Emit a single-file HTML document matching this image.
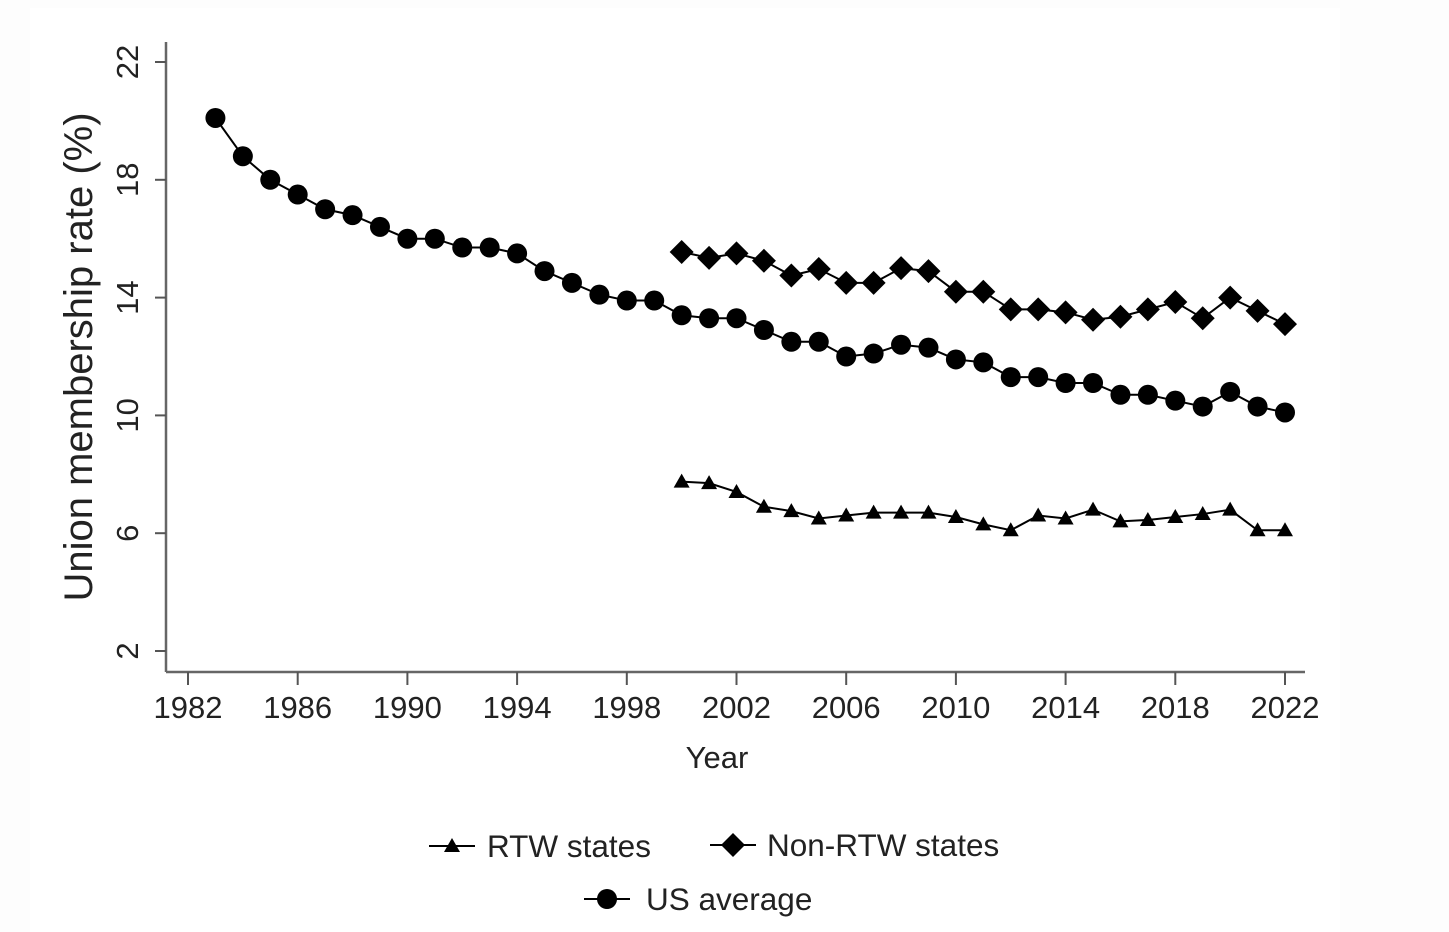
<!DOCTYPE html>
<html><head><meta charset="utf-8"><style>
body{margin:0;background:#fdfdfd;}
#wrap{position:relative;width:1449px;height:932px;background:#fdfdfd;}
svg{position:absolute;left:0;top:0;font-family:"Liberation Sans",sans-serif;}
</style></head><body>
<div id="wrap">
<svg id="chart" width="1449" height="932"></svg>
</div>
<script>
const usYears=[1983,1984,1985,1986,1987,1988,1989,1990,1991,1992,1993,1994,1995,1996,1997,1998,1999,2000,2001,2002,2003,2004,2005,2006,2007,2008,2009,2010,2011,2012,2013,2014,2015,2016,2017,2018,2019,2020,2021,2022];
const usValues=[20.1,18.8,18.0,17.5,17.0,16.8,16.4,16.0,16.0,15.7,15.7,15.5,14.9,14.5,14.1,13.9,13.9,13.4,13.3,13.3,12.9,12.5,12.5,12.0,12.1,12.4,12.3,11.9,11.8,11.3,11.3,11.1,11.1,10.7,10.7,10.5,10.3,10.8,10.3,10.1];
const stateYears=[2000,2001,2002,2003,2004,2005,2006,2007,2008,2009,2010,2011,2012,2013,2014,2015,2016,2017,2018,2019,2020,2021,2022];
const nonRtwValues=[15.55,15.35,15.5,15.25,14.75,14.97,14.5,14.5,15.0,14.9,14.2,14.2,13.6,13.6,13.5,13.25,13.35,13.6,13.85,13.3,14.0,13.55,13.1];
const rtwValues=[7.75,7.7,7.4,6.9,6.75,6.5,6.6,6.7,6.7,6.7,6.55,6.3,6.1,6.6,6.5,6.8,6.4,6.45,6.55,6.65,6.8,6.1,6.1];
const xTicks=[1982,1986,1990,1994,1998,2002,2006,2010,2014,2018,2022];
const yTicks=[2,6,10,14,18,22];

const NS="http://www.w3.org/2000/svg";
const svg=document.getElementById('chart');
function X(v){return 188+(v-1982)*(1285-188)/40;}
function Y(v){return 62+(22-v)*(651-62)/20;}
function el(t,a,p){const e=document.createElementNS(NS,t);for(const k in a)e.setAttribute(k,a[k]);(p||svg).appendChild(e);return e;}

const panel=el('rect',{x:30,y:8,width:1310,height:930,fill:'#ffffff'});



const ax=el('g',{});


el('line',{x1:166,y1:42,x2:166,y2:672,stroke:'#666',"stroke-width":2.5},ax);
el('line',{x1:166,y1:672,x2:1305,y2:672,stroke:'#666',"stroke-width":2.5},ax);
yTicks.forEach(v=>{
  el('line',{x1:155,y1:Y(v),x2:166,y2:Y(v),stroke:'#555',"stroke-width":2},ax);
  const t=el('text',{x:0,y:0,transform:`translate(138,${Y(v)}) rotate(-90)`,"text-anchor":"middle","font-size":31,fill:'#222'},ax);
  t.textContent=v;
  
  
});
xTicks.forEach(v=>{
  el('line',{x1:X(v),y1:672,x2:X(v),y2:685,stroke:'#555',"stroke-width":2},ax);
  const t=el('text',{x:X(v),y:718,"text-anchor":"middle","font-size":31,fill:'#222'},ax);
  t.textContent=v;
  
  
});
const yt=el('text',{transform:'translate(92,357) rotate(-90)',"text-anchor":"middle","font-size":40,fill:'#222'});
yt.textContent='Union membership rate (%)';


const xt=el('text',{x:717,y:768,"text-anchor":"middle","font-size":31,fill:'#222'});
xt.textContent='Year';



function marker(type,cx,cy,g){
  if(type==='circle') return el('circle',{cx:cx,cy:cy,r:10,fill:'#000'},g);
  if(type==='diamond') return el('polygon',{points:`${cx},${cy-12} ${cx+12},${cy} ${cx},${cy+12} ${cx-12},${cy}`,fill:'#000'},g);
  return el('polygon',{points:`${cx},${cy-8} ${cx+8},${cy+6} ${cx-8},${cy+6}`,fill:'#000'},g);
}
function series(name,years,vals,type){
  const g=el('g',{});
  
  
  el('polyline',{points:years.map((y,i)=>X(y)+','+Y(vals[i])).join(' '),fill:'none',stroke:'#000',"stroke-width":2},g);
  years.forEach((y,i)=>{
    const m=marker(type,X(y),Y(vals[i]),g);
    
    
  });
}
series('us-average-series',usYears,usValues,'circle');
series('non-rtw-series',stateYears,nonRtwValues,'diamond');
series('rtw-series',stateYears,rtwValues,'triangle');

function legend(name,x1,x2,cy,type,label,tx){
  const g=el('g',{});
  
  
  el('line',{x1:x1,y1:cy,x2:x2,y2:cy,stroke:'#000',"stroke-width":2},g);
  marker(type,(x1+x2)/2,cy,g);
  const t=el('text',{x:tx,y:cy+11,"font-size":31.5,fill:'#222'},g);
  t.textContent=label;
}
legend('legend-rtw',429,475,846,'triangle','RTW states',487);
legend('legend-non-rtw',710,756,845,'diamond','Non-RTW states',767);
legend('legend-us-average',584,630,899,'circle','US average',646);
</script>
</body></html>
